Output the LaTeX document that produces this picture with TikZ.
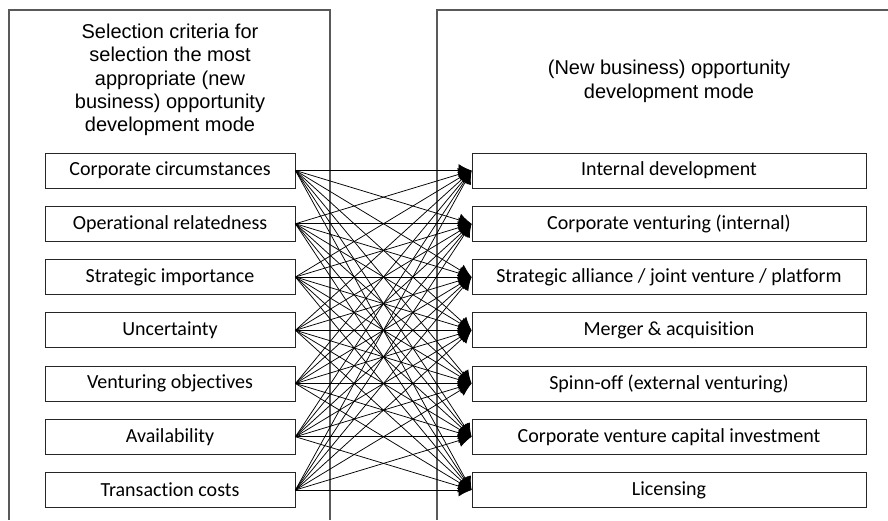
\documentclass[tikz,border=0pt]{standalone}
\usepackage{fontspec}
\setmainfont{Carlito}[Ligatures=NoCommon]
\newfontfamily\arialfont{Liberation Sans}
\usetikzlibrary{arrows.meta}
\begin{document}
\begin{tikzpicture}[x=1pt,y=-1pt,
 panel/.style={draw=black!65, line width=1.1pt},
 crit/.style={draw=black!85, line width=0.9pt, minimum width=250pt, minimum height=35pt, inner sep=0pt, font=\fontsize{20}{24}\selectfont},
 mode/.style={crit, minimum width=394pt},
 title/.style={align=center, font=\arialfont\fontsize{20}{23.4}\selectfont},
 link/.style={line width=0.75pt, -{Latex[length=13pt,width=13pt]}}]
\useasboundingbox (0,0) rectangle (888,520);
\draw[panel] (9,520) -- (9,10) -- (330,10) -- (330,520);
\draw[panel] (888,10) -- (437,10) -- (437,520);
\node[title] (lt) at (170,80) {Selection criteria for\\selection the most\\appropriate (new\\business) opportunity\\development mode};
\node[title] (rt) at (669,81.5) {(New business) opportunity\\development mode};
\foreach \t [count=\i] in {Corporate circumstances, Operational relatedness, Strategic importance, Uncertainty, Venturing objectives, Availability, Transaction costs}
  \node[crit] (c\i) at (170,{170.5+53.25*(\i-1)}) {\t};
\foreach \t [count=\i] in {Internal development, Corporate venturing (internal), Strategic alliance / joint venture / platform, Merger \& acquisition, Spinn-off (external venturing), Corporate venture capital investment, Licensing}
  \node[mode] (m\i) at (669,{170.5+53.25*(\i-1)}) {\t};
\foreach \i in {1,...,7}
  \foreach \j in {1,...,7}
    \draw[link] (c\i.east) -- (m\j.west);
\end{tikzpicture}
\end{document}
